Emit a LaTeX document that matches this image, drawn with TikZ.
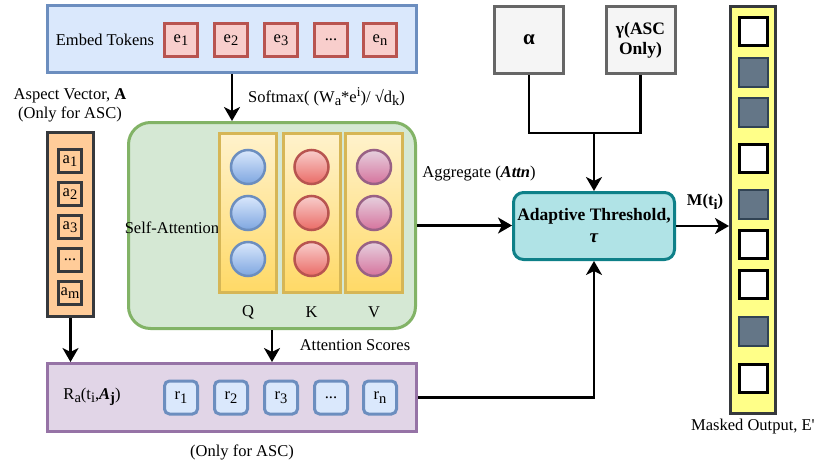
\documentclass[tikz,border=0pt]{standalone}
\usepackage{fontspec}
\setmainfont{Liberation Serif}
\usetikzlibrary{arrows.meta,calc}
\definecolor{bluefill}{HTML}{DAE8FC}
\definecolor{bluestroke}{HTML}{6C8EBF}
\definecolor{bluedark}{HTML}{7EA6E0}
\definecolor{redfill}{HTML}{F8CECC}
\definecolor{redstroke}{HTML}{B85450}
\definecolor{reddark}{HTML}{EA6B66}
\definecolor{purpfill}{HTML}{E6D0DE}
\definecolor{purpdark}{HTML}{D5739D}
\definecolor{purpstroke}{HTML}{996185}
\definecolor{greenfill}{HTML}{D5E8D4}
\definecolor{greenstroke}{HTML}{82B366}
\definecolor{yeltop}{HTML}{FFF2CC}
\definecolor{yelbot}{HTML}{FFD966}
\definecolor{yelstroke}{HTML}{D6B656}
\definecolor{orangefill}{HTML}{FFCC99}
\definecolor{darkstroke}{HTML}{36393D}
\definecolor{lilacfill}{HTML}{E1D5E7}
\definecolor{lilacstroke}{HTML}{9673A6}
\definecolor{tealfill}{HTML}{B0E3E6}
\definecolor{tealstroke}{HTML}{0E8088}
\definecolor{greyfill}{HTML}{F5F5F5}
\definecolor{greystroke}{HTML}{666666}
\definecolor{outfill}{HTML}{FFFF88}
\definecolor{maskfill}{HTML}{647687}
\definecolor{maskstroke}{HTML}{314354}
\newcommand\lo[1]{\raisebox{-0.45ex}{\fontsize{14.5}{15}\selectfont #1}}
\newcommand\hi[1]{\raisebox{0.75ex}{\fontsize{13.5}{14}\selectfont #1}}
\begin{document}
\begin{tikzpicture}[x=1pt,y=-1pt,
  font=\fontsize{16.5}{19}\selectfont,
  box/.style={draw, line width=3pt, inner sep=0pt, align=center},
  ebox/.style={box, fill=redfill, draw=redstroke, minimum width=33pt, minimum height=33pt},
  rbox/.style={box, fill=bluefill, draw=bluestroke, rounded corners=5pt, minimum width=33pt, minimum height=33pt},
  abox/.style={box, fill=orangefill, draw=darkstroke, minimum width=23pt, minimum height=23pt},
  col/.style={box, top color=yeltop, bottom color=yelbot, draw=yelstroke, minimum width=57pt, minimum height=159pt},
  ball/.style={circle, draw, line width=2.5pt, minimum size=34pt, inner sep=0pt},
  qball/.style={ball, draw=bluestroke, top color=bluefill, bottom color=bluedark},
  kball/.style={ball, draw=redstroke, top color=redfill, bottom color=reddark},
  vball/.style={ball, draw=purpstroke, top color=purpfill, bottom color=purpdark},
  mwhite/.style={box, fill=white, draw=black, minimum width=28pt, minimum height=28pt},
  mdark/.style={box, fill=maskfill, draw=maskstroke, line width=2pt, minimum width=29pt, minimum height=29pt},
  lbl/.style={inner sep=0pt, align=center},
  conn/.style={line width=2.8pt, draw=black},
  arr/.style={conn, -{Stealth[length=14pt,width=16pt,inset=4pt]}}
]
\useasboundingbox (0,0) rectangle (819,461);

% Embed tokens
\node[box, fill=bluefill, draw=bluestroke, minimum width=369pt, minimum height=67pt] (emb) at (232,39) {};
\node[lbl] (embt) at (105,40) {Embed Tokens};
\node[ebox] (e1) at (181,40) {e\lo{1}};
\node[ebox] (e2) at (231,40) {e\lo{2}};
\node[ebox] (e3) at (281,40) {e\lo{3}};
\node[ebox] (e4) at (331,40) {...};
\node[ebox] (e5) at (380,40) {e\lo{n}};

\node[lbl, anchor=west] (softmax) at (248,97) {Softmax( (W\lo{a}*e\hi{i})/ √d\lo{k})};

% Self attention block
\node[box, fill=greenfill, draw=greenstroke, rounded corners=22pt, minimum width=287pt, minimum height=206pt] (green) at (272,225.5) {};
\node[lbl] (satt) at (172,228) {Self-Attention};
\node[col] (qcol) at (248,213) {};
\node[col] (kcol) at (311.5,213) {};
\node[col] (vcol) at (374,213) {};
\node[qball] (q1) at (248,167) {};
\node[qball] (q2) at (248,213) {};
\node[qball] (q3) at (248,259) {};
\node[kball] (k1) at (311.5,167) {};
\node[kball] (k2) at (311.5,213) {};
\node[kball] (k3) at (311.5,259) {};
\node[vball] (v1) at (374,167) {};
\node[vball] (v2) at (374,213) {};
\node[vball] (v3) at (374,259) {};
\node[lbl] (ql) at (248,312) {Q};
\node[lbl] (kl) at (311.5,312) {K};
\node[lbl] (vl) at (374,312) {V};

% Aspect vector
\node[lbl] (aspt) at (70,105) {Aspect Vector, \textbf{A}\\(Only for ASC)};
\node[box, fill=orangefill, draw=darkstroke, minimum width=46pt, minimum height=184pt] (asp) at (70.5,224.5) {};
\node[abox] (a1) at (70,161) {a\lo{1}};
\node[abox] (a2) at (70,194) {a\lo{2}};
\node[abox] (a3) at (70,227) {a\lo{3}};
\node[abox] (a4) at (70,260) {...};
\node[abox] (a5) at (70,293) {a\lo{m}};

% R block
\node[box, fill=lilacfill, draw=lilacstroke, minimum width=369pt, minimum height=68pt] (R) at (232,397.5) {};
\node[lbl] (Rl) at (92,397) {R\lo{a}(t\lo{i},\textbf{\textit{A}}\lo{\textbf{j}})};
\node[rbox] (r1) at (181,397.5) {r\lo{1}};
\node[rbox] (r2) at (231,397.5) {r\lo{2}};
\node[rbox] (r3) at (281,397.5) {r\lo{3}};
\node[rbox] (r4) at (331,397.5) {...};
\node[rbox] (r5) at (380,397.5) {r\lo{n}};
\node[lbl] (onlyasc) at (242,452) {(Only for ASC)};
\node[lbl] (attsc) at (355,345) {Attention Scores};

% Threshold
\node[box, fill=tealfill, draw=tealstroke, rounded corners=10pt, minimum width=161pt, minimum height=67pt, font=\fontsize{17.5}{20}\selectfont] (adapt) at (594,226) {\textbf{Adaptive Threshold,}\\[2pt]{\fontsize{19}{20}\selectfont\textbf{\textit{τ}}}};
\node[box, fill=greyfill, draw=greystroke, minimum width=69pt, minimum height=67pt, font=\fontsize{21}{24}\selectfont] (alpha) at (529,40) {\textbf{α}};
\node[box, fill=greyfill, draw=greystroke, minimum width=69pt, minimum height=67pt, font=\fontsize{17.5}{20}\selectfont] (gamma) at (640.5,40) {\textbf{γ(ASC}\\\textbf{Only)}};
\node[lbl] (aggr) at (479,174) {Aggregate (\textbf{\textit{Attn}})};
\node[lbl] (mti) at (705,202) {\textbf{M(t\lo{i})}};

% Output
\node[box, fill=outfill, draw=darkstroke, minimum width=45pt, minimum height=407pt] (out) at (753,210) {};
\node[mwhite] (m1) at (753,31.5) {};
\node[mdark] (m2) at (753,72) {};
\node[mdark] (m3) at (753,112.5) {};
\node[mwhite] (m4) at (753,158) {};
\node[mdark] (m5) at (753,204) {};
\node[mwhite] (m6) at (753,244) {};
\node[mwhite] (m7) at (753,284) {};
\node[mdark] (m8) at (753,331.5) {};
\node[mwhite] (m9) at (753,378) {};
\node[lbl, anchor=west] (maskt) at (691,427) {Masked Output, E\textquotesingle};

% Connectors
\draw[arr] (emb.south) -- (emb.south |- green.north);
\draw[arr] (asp.south) -- (asp.south |- R.north);
\draw[arr] (green.south) -- (green.south |- R.north);
\draw[arr] (green.east) -- (green.east -| adapt.west);
\coordinate (join) at (594,133);
\draw[conn] (alpha.south) |- (join) -| (gamma.south);
\draw[arr] (join) -- (adapt.north);
\draw[arr] (R.east) -| (adapt.south);
\draw[arr] (adapt.east) -- (adapt.east -| out.west);
\end{tikzpicture}
\end{document}
